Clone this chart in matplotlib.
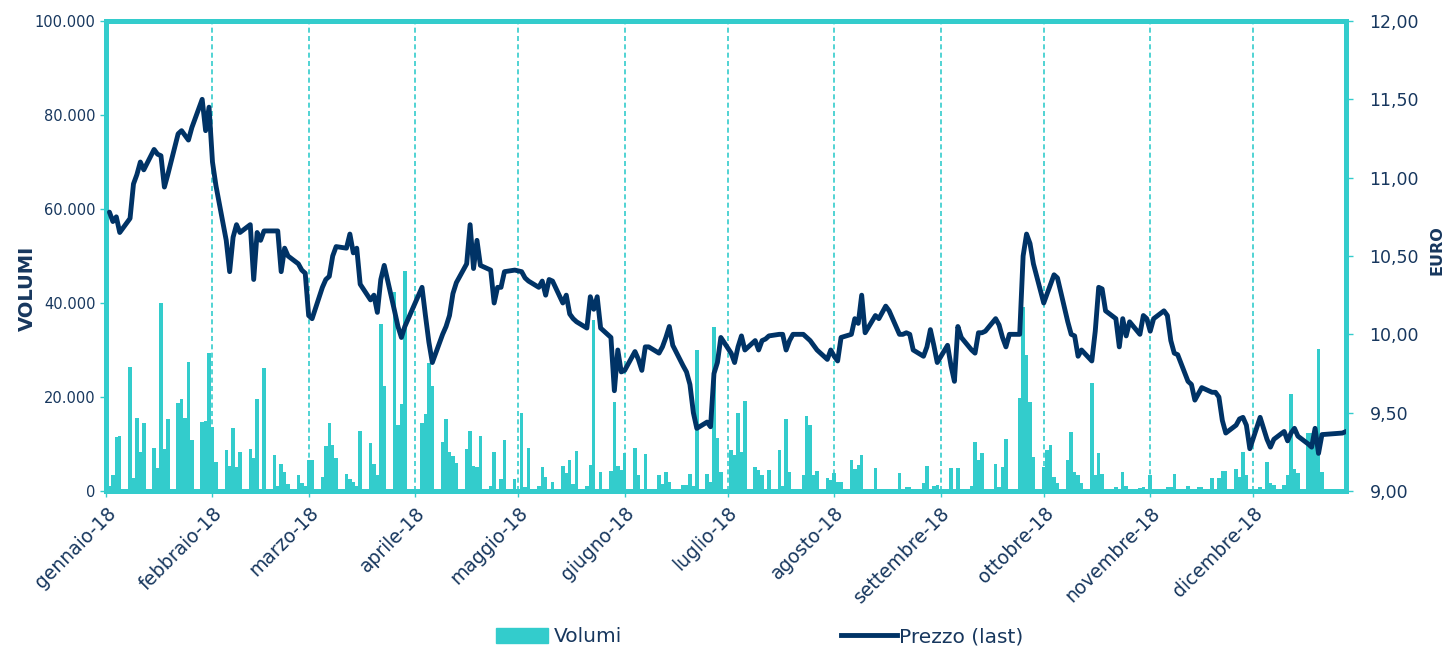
import matplotlib
matplotlib.use("Agg")
import matplotlib.pyplot as plt
import matplotlib.dates as mdates
import matplotlib.transforms as mtransforms
from matplotlib.patches import Patch
from matplotlib.lines import Line2D
from matplotlib.ticker import FuncFormatter, FixedLocator
import pandas as pd
import numpy as np

# ---------------- data ----------------
holidays = ["2018-03-30", "2018-04-02", "2018-05-01", "2018-08-15",
            "2018-12-24", "2018-12-25", "2018-12-26"]

price_jan = [10.78, 10.72, 10.75, 10.65, 10.74, 10.96, 11.02, 11.10, 11.05, 11.18, 11.15,
             11.14, 10.94, 11.02, 11.28, 11.30, 11.27, 11.24, 11.32, 11.50, 11.30, 11.45]
price_feb = [11.10, 10.95, 10.60, 10.40, 10.62, 10.70, 10.65, 10.70, 10.35, 10.65,
             10.60, 10.66, 10.66, 10.66, 10.40, 10.55, 10.50, 10.45, 10.41, 10.39]
price_mar = [10.12, 10.10, 10.30, 10.35, 10.37, 10.50, 10.56, 10.55, 10.64, 10.52, 10.55,
             10.32, 10.22, 10.25, 10.14, 10.35, 10.44, 10.15, 10.05, 9.98, 10.05]
price_apr = [10.30, 10.12, 9.95, 9.82, 10.00, 10.05, 10.12, 10.26, 10.33, 10.45,
             10.70, 10.42, 10.60, 10.44, 10.41, 10.20, 10.30, 10.30, 10.40, 10.41]
price_may = [10.40, 10.36, 10.34, 10.30, 10.34, 10.25, 10.35, 10.34, 10.20, 10.25, 10.13,
             10.10, 10.08, 10.04, 10.24, 10.16, 10.24, 10.04, 9.98, 9.64, 9.90, 9.76]
price_jun = [9.77, 9.89, 9.84, 9.77, 9.92, 9.92, 9.88, 9.92, 9.98, 10.05, 9.93,
             9.80, 9.76, 9.68, 9.50, 9.40, 9.44, 9.41, 9.75, 9.82, 9.98]
price_jul = [9.88, 9.82, 9.92, 9.99, 9.90, 9.96, 9.90, 9.96, 9.97, 9.99, 10.00,
             10.00, 9.90, 9.96, 10.00, 10.00, 9.98, 9.96, 9.93, 9.90, 9.84, 9.90]
price_aug = [9.86, 9.83, 9.98, 10.00, 10.10, 10.07, 10.25, 10.01, 10.12, 10.10, 10.18,
             10.15, 10.00, 10.00, 10.01, 10.00, 9.90, 9.86, 9.92, 10.03, 9.93, 9.82]
price_sep = [9.93, 9.80, 9.70, 10.05, 9.98, 9.90, 9.88, 10.01, 10.01, 10.02,
             10.10, 10.06, 9.98, 9.92, 10.00, 10.00, 10.50, 10.64, 10.58, 10.45]
price_oct = [10.20, 10.26, 10.32, 10.38, 10.36, 10.08, 10.00, 9.99, 9.86, 9.90, 9.83, 10.02,
             10.30, 10.29, 10.15, 10.10, 9.92, 10.10, 9.99, 10.08, 10.00, 10.12, 10.10]
price_nov = [10.02, 10.10, 10.15, 10.12, 9.96, 9.88, 9.87, 9.70, 9.68, 9.58, 9.62,
             9.66, 9.63, 9.63, 9.60, 9.45, 9.37, 9.42, 9.46, 9.47, 9.42, 9.27]
price_dec = [9.47, 9.40, 9.33, 9.28, 9.33, 9.38, 9.32, 9.37, 9.40, 9.35, 9.30,
             9.28, 9.40, 9.24, 9.36, 9.37, 9.38]

vol_jan = [1000, 3500, 11500, 11800, 26400, 2700, 15500, 8300, 14400, 9100, 4800,
           40000, 9000, 15300, 18700, 19600, 15500, 27500, 10900, 14700, 15000, 29400]
vol_feb = [13600, 6200, 8700, 5300, 13400, 5100, 8300, 9000, 7000, 19600,
           500, 26200, 7600, 1000, 5700, 4000, 1500, 3500, 1700, 1000]
vol_mar = [6600, 6600, 3000, 9600, 14400, 9700, 7000, 3600, 2500, 2000, 1000,
           12800, 10200, 5800, 3400, 35500, 22300, 42400, 14000, 18500, 46900]
vol_apr = [14500, 16400, 27200, 22300, 10400, 15300, 8300, 7400, 6000, 9000,
           12800, 5300, 5200, 11700, 1000, 8300, 300, 2500, 10900, 2500]
vol_may = [16500, 800, 9100, 1000, 5100, 3000, 500, 2000, 5400, 3800, 6600,
           1500, 8500, 1000, 5500, 36400, 500, 4000, 4200, 19000, 5300, 4500]
vol_jun = [8100, 9100, 3300, 500, 7900, 300, 3300, 1500, 4000, 2000, 300,
           1300, 1300, 3600, 1000, 30000, 3600, 2000, 34900, 11300, 4000]
vol_jul = [8700, 7700, 16500, 8300, 19100, 5100, 4500, 3300, 300, 4500, 8800,
           1000, 15300, 4000, 300, 3400, 16000, 14100, 3400, 4300, 2800, 2300]
vol_aug = [3800, 2000, 1900, 6700, 4600, 5500, 7700, 500, 5000, 500, 300,
           300, 3800, 300, 800, 800, 300, 1600, 5300, 300, 1000, 1300]
vol_sep = [300, 5000, 300, 5000, 200, 1000, 10400, 6700, 8000, 300,
           5700, 800, 5200, 11000, 300, 19700, 39200, 28900, 19000, 7200]
vol_oct = [5100, 8800, 9800, 3000, 1800, 6700, 12600, 4100, 3400, 1700, 23000, 3300,
           8100, 3600, 500, 800, 500, 4000, 1000, 500, 700, 800, 500]
vol_nov = [3300, 500, 300, 800, 800, 3600, 300, 1000, 300, 300, 800,
           800, 2800, 500, 2800, 4300, 4300, 4600, 3000, 8300, 3300, 500]
vol_dec = [800, 500, 6200, 1800, 1200, 1200, 3300, 20600, 4600, 3800, 12300,
           12400, 11200, 30200, 4000, 500, 1500]

month_labels = ["gennaio-18", "febbraio-18", "marzo-18", "aprile-18", "maggio-18",
                "giugno-18", "luglio-18", "agosto-18", "settembre-18", "ottobre-18",
                "novembre-18", "dicembre-18"]
left_ticks = [0, 20000, 40000, 60000, 80000, 100000]
right_ticks = [9.0, 9.5, 10.0, 10.5, 11.0, 11.5, 12.0]

# ---------------- assemble ----------------
dates = pd.bdate_range("2018-01-02", "2018-12-28")
dates = dates[~dates.isin(pd.to_datetime(holidays))]
price = (price_jan + price_feb + price_mar + price_apr + price_may + price_jun +
         price_jul + price_aug + price_sep + price_oct + price_nov + price_dec)
volume = (vol_jan + vol_feb + vol_mar + vol_apr + vol_may + vol_jun +
          vol_jul + vol_aug + vol_sep + vol_oct + vol_nov + vol_dec)
n = min(len(dates), len(price), len(volume))
dates, price, volume = dates[:n], price[:n], volume[:n]

TURQ = "#33CCCC"
NAVY = "#003366"
TXT = "#17375E"

plt.rcParams["font.family"] = ["DejaVu Sans"]

fig = plt.figure(figsize=(14.47, 6.47), dpi=100)
ax = fig.add_axes([106 / 1447, 1 - 491 / 647, 1240 / 1447, 470 / 647])
ax2 = ax.twinx()

ax.bar(dates, volume, width=1.0, color=TURQ, linewidth=0, align="center", zorder=2)
ax2.plot(dates, price, color=NAVY, linewidth=3.5, solid_joinstyle="round",
         solid_capstyle="round", zorder=3)

month_starts = pd.date_range("2018-01-01", periods=12, freq="MS")
ax.set_xlim(pd.Timestamp("2018-01-01"), pd.Timestamp("2018-12-28"))
ax.set_ylim(0, 100000)
ax2.set_ylim(9, 12)

ax.xaxis.set_major_locator(FixedLocator(mdates.date2num(month_starts)))
ax.set_xticklabels(month_labels, rotation=45, ha="right", va="top",
                   rotation_mode="anchor", color=TXT, fontsize=13.5)
shift = mtransforms.ScaledTranslation(-3 / 72, -3 / 72, fig.dpi_scale_trans)
for lbl in ax.get_xticklabels():
    lbl.set_transform(lbl.get_transform() + shift)
for d in month_starts[1:]:
    ax.axvline(d, color=TURQ, linewidth=1.2, linestyle=(0, (3, 2)), zorder=1)

ax.set_yticks(left_ticks)
ax.yaxis.set_major_formatter(FuncFormatter(lambda v, p: f"{v:,.0f}".replace(",", ".")))
ax2.set_yticks(right_ticks)
ax2.yaxis.set_major_formatter(FuncFormatter(lambda v, p: f"{v:.2f}".replace(".", ",")))

for a in (ax, ax2):
    for s in a.spines.values():
        s.set_color(TURQ)
        s.set_linewidth(3.5)
    a.tick_params(axis="both", colors=TURQ, labelcolor=TXT, length=4, width=1)
ax.tick_params(axis="y", labelsize=10.5)
ax.tick_params(axis="x", pad=5)
ax2.tick_params(axis="y", labelsize=12.5, pad=12, length=5)

fig.text(27 / 1447, 1 - 288 / 647, "VOLUMI", rotation=90, ha="center", va="center",
         fontsize=14, fontweight="bold", color=TXT)
fig.text(1437 / 1447, 1 - 250 / 647, "EURO", rotation=90, ha="center", va="center",
         fontsize=11.5, fontweight="bold", color=TXT)

h1 = Patch(facecolor=TURQ, edgecolor=TURQ)
h2 = Line2D([], [], color=NAVY, linewidth=3.5)
fig.legend([h1], ["Volumi"], loc="center left", bbox_to_anchor=(496 / 1447, 1 - 637 / 647),
           frameon=False, fontsize=14.5, labelcolor=TXT, handlelength=2.6,
           handletextpad=0.25, borderpad=0, borderaxespad=0)
fig.legend([h2], ["Prezzo (last)"], loc="center left",
           bbox_to_anchor=(841 / 1447, 1 - 637 / 647), frameon=False, fontsize=14.5,
           labelcolor=TXT, handlelength=2.8, handletextpad=0.1, borderpad=0,
           borderaxespad=0)

fig.savefig("out.png", dpi=100)
